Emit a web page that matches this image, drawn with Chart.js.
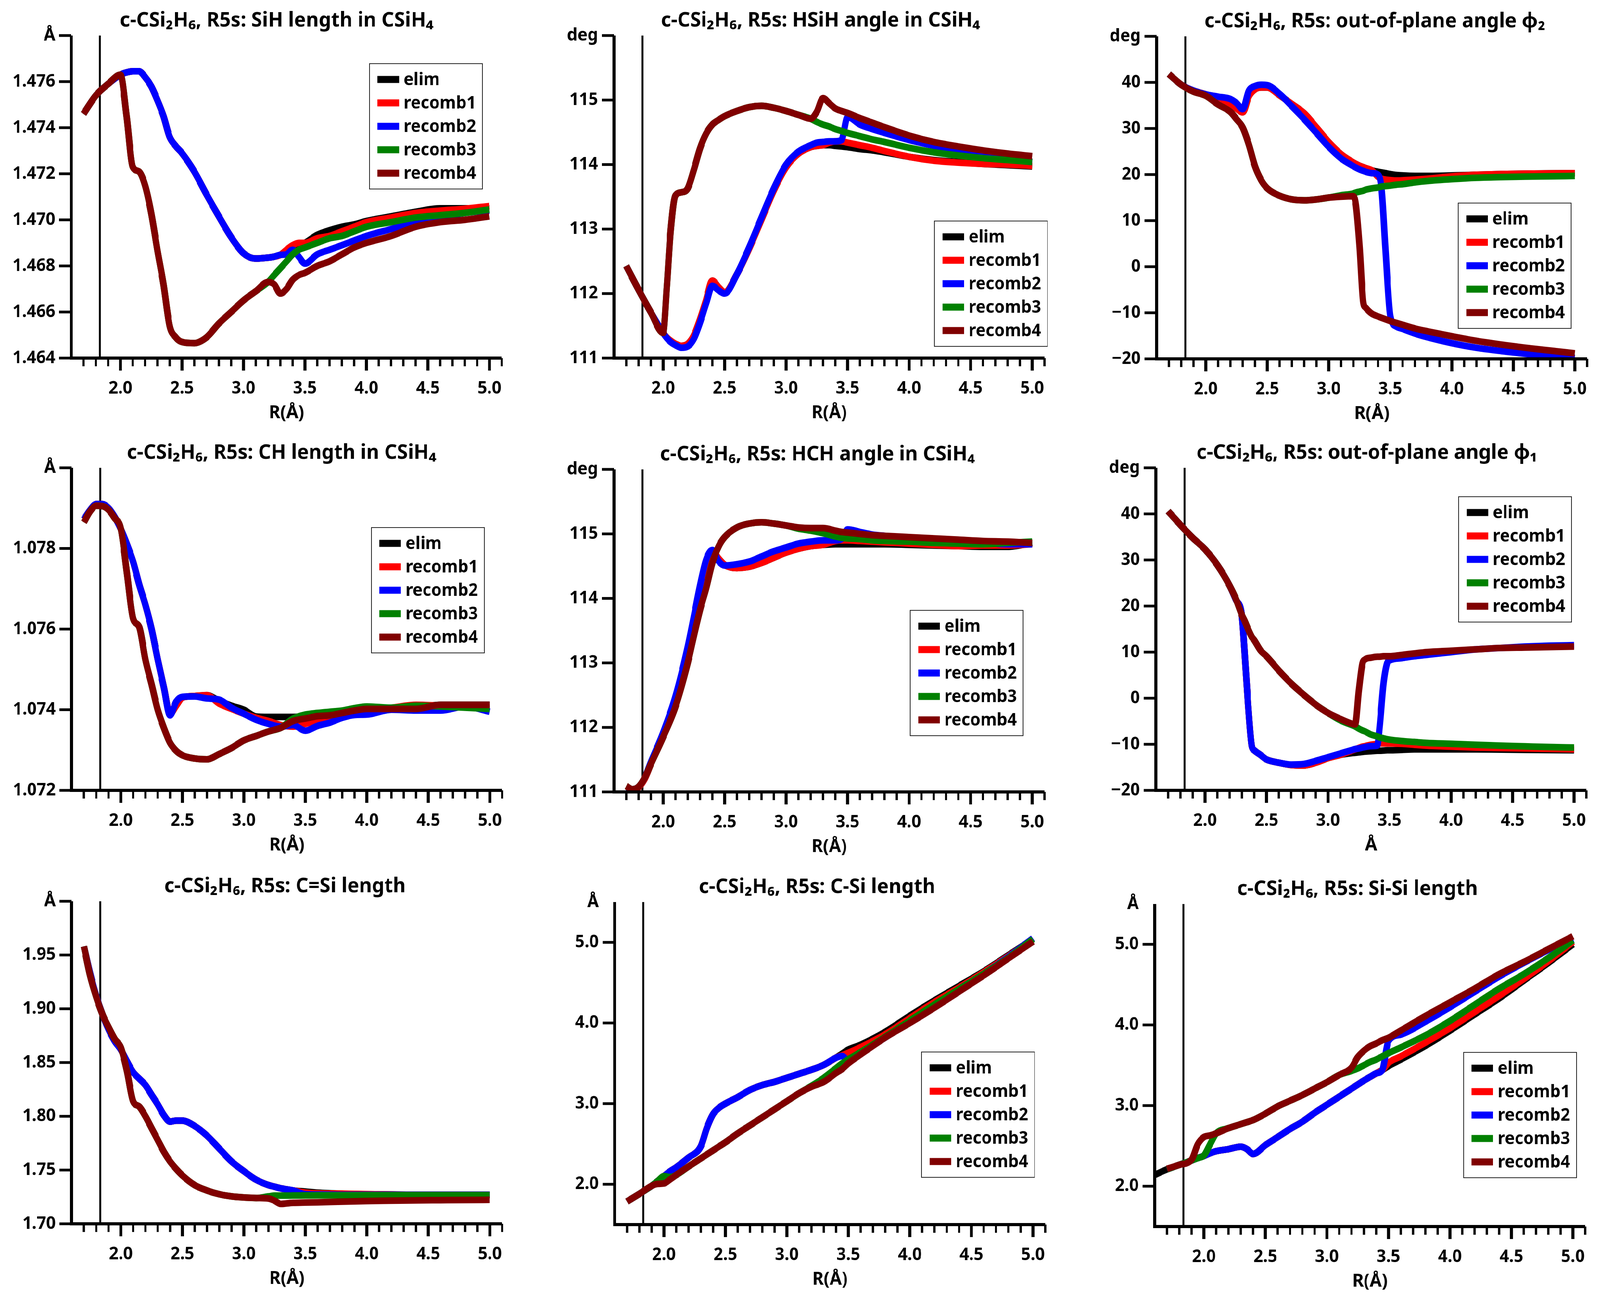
<!DOCTYPE html>
<html><head><meta charset="utf-8">
<script src="https://cdn.jsdelivr.net/npm/chart.js@4.4.1/dist/chart.umd.min.js"></script>
<style>
html,body{margin:0;padding:0;background:#fff;overflow:hidden;}
#wrap{position:absolute;left:0;top:0;width:4222px;height:3324px;overflow:hidden;background:#fff;transform-origin:0 0;}
.panel{position:absolute;width:1456px;height:1108px;}
</style></head><body><div id="wrap"></div>
<script>
// ---------- shared ----------
const SERIES = ['elim','recomb1','recomb2','recomb3','recomb4'];
const COLORS = ['#000000','#ff0000','#0000ff','#008000','#800000'];
const EQ_R = 1.833;
const X_TICKS = [1.7,1.8,1.9,2.0,2.1,2.2,2.3,2.4,2.5,2.6,2.7,2.8,2.9,3.0,3.1,3.2,3.3,3.4,3.5,3.6,3.7,3.8,3.9,4.0,4.1,4.2,4.3,4.4,4.5,4.6,4.7,4.8,4.9,5.0,5.1];
const X_MAJOR = [2.0,2.5,3.0,3.5,4.0,4.5,5.0];
const X_MAJOR_LABELS = ['2.0','2.5','3.0','3.5','4.0','4.5','5.0'];

// ---------- panel 1: SiH length ----------
const R_sih = [1.7,1.8,1.9,2.0,2.05,2.1,2.15,2.2,2.25,2.3,2.35,2.4,2.45,2.5,2.6,2.7,2.8,2.9,3.0,3.1,3.2,3.25,3.3,3.35,3.4,3.45,3.5,3.6,3.7,3.8,3.9,4.0,4.2,4.4,4.6,4.8,5.0];
const sih_elim = [1.4746,1.4754,1.4759,1.4763,1.4764,1.47645,1.47645,1.4762,1.4758,1.4752,1.4745,1.4736,1.4732,1.4729,1.4721,1.4711,1.47015,1.46925,1.46855,1.46832,1.46836,1.4684,1.46848,1.4686,1.46876,1.4689,1.4690,1.46935,1.46955,1.4697,1.4698,1.46995,1.47015,1.47035,1.4705,1.4705,1.4705];
const sih_recomb1 = [1.4746,1.4754,1.4759,1.4763,1.4764,1.47645,1.47645,1.4762,1.4758,1.4752,1.4745,1.4736,1.4732,1.4729,1.4721,1.4711,1.47015,1.46925,1.46855,1.46832,1.46836,1.4684,1.46848,1.4687,1.4689,1.4690,1.4690,1.4692,1.4693,1.4695,1.4697,1.4699,1.4701,1.4703,1.4704,1.47048,1.4706];
const sih_recomb2 = [1.4746,1.4754,1.4759,1.4763,1.4764,1.47645,1.47645,1.4762,1.4758,1.4752,1.4745,1.4736,1.4732,1.4729,1.4721,1.4711,1.47015,1.46925,1.46855,1.46832,1.46836,1.4684,1.46848,1.4685,1.4687,1.4684,1.4681,1.4685,1.4687,1.4689,1.4691,1.4693,1.4696,1.4699,1.4701,1.4703,1.4704];
const sih_recomb3 = [1.4746,1.4754,1.4759,1.4763,1.4745,1.4723,1.4721,1.4715,1.4703,1.4687,1.4672,1.4654,1.4649,1.4647,1.46465,1.4649,1.4655,1.4660,1.4665,1.4669,1.4673,1.4676,1.4679,1.4682,1.4685,1.4687,1.4688,1.4690,1.4692,1.4693,1.4695,1.4697,1.4699,1.4701,1.4702,1.4703,1.47045];
const sih_recomb4 = [1.4746,1.4754,1.4759,1.4763,1.4745,1.4723,1.4721,1.4715,1.4703,1.4687,1.4672,1.4654,1.4649,1.4647,1.46465,1.4649,1.4655,1.4660,1.4665,1.4669,1.4673,1.4672,1.4668,1.4670,1.4674,1.4676,1.4677,1.4680,1.4682,1.4685,1.4688,1.4690,1.4693,1.4697,1.4699,1.4700,1.47015];
const sih_yticks = [1.464,1.466,1.468,1.47,1.472,1.474,1.476,1.478];
const sih_ylabels = ['1.464','1.466','1.468','1.470','1.472','1.474','1.476','Å'];

// ---------- panel 2: HSiH angle ----------
const R_hsih = [1.7,1.8,1.9,2.0,2.03,2.06,2.1,2.15,2.2,2.25,2.3,2.35,2.4,2.45,2.5,2.6,2.7,2.8,2.9,3.0,3.1,3.2,3.25,3.3,3.35,3.4,3.45,3.5,3.6,3.7,3.8,4.0,4.2,4.4,4.6,4.8,5.0];
const hsih_elim = [112.43,112.06,111.71,111.39,111.32,111.27,111.22,111.19,111.22,111.35,111.6,111.9,112.2,112.1,112.02,112.3,112.7,113.15,113.6,113.96,114.17,114.27,114.29,114.3,114.3,114.29,114.28,114.27,114.24,114.22,114.19,114.12,114.07,114.04,114.01,113.99,113.97];
const hsih_recomb1 = [112.43,112.06,111.71,111.39,111.32,111.27,111.22,111.19,111.22,111.35,111.6,111.9,112.2,112.1,112.02,112.3,112.7,113.15,113.6,113.96,114.17,114.27,114.29,114.3,114.34,114.36,114.36,114.34,114.3,114.26,114.21,114.12,114.06,114.03,114.01,114.0,113.98];
const hsih_recomb2 = [112.43,112.06,111.71,111.39,111.31,111.25,111.2,111.16,111.18,111.3,111.55,111.85,112.12,112.05,112.0,112.3,112.72,113.18,113.63,114.0,114.2,114.3,114.34,114.35,114.36,114.36,114.38,114.74,114.62,114.55,114.49,114.38,114.29,114.21,114.14,114.09,114.04];
const hsih_recomb3 = [112.43,112.06,111.71,111.39,112.1,112.95,113.52,113.57,113.63,113.92,114.25,114.48,114.62,114.69,114.75,114.83,114.89,114.91,114.88,114.83,114.77,114.71,114.66,114.62,114.59,114.55,114.52,114.49,114.44,114.39,114.35,114.26,114.19,114.14,114.1,114.07,114.04];
const hsih_recomb4 = [112.43,112.06,111.71,111.39,112.1,112.95,113.52,113.57,113.63,113.92,114.25,114.48,114.62,114.69,114.75,114.83,114.89,114.91,114.88,114.83,114.77,114.71,114.82,115.03,114.95,114.87,114.83,114.8,114.72,114.65,114.58,114.45,114.35,114.28,114.22,114.17,114.13];
const ang_yticks = [111,112,113,114,115,116];
const ang_ylabels = ['111','112','113','114','115','deg'];

// ---------- panel 3: out-of-plane angle phi2 ----------
const R_phi2 = [1.7,1.8,1.9,2.0,2.1,2.2,2.25,2.3,2.35,2.4,2.45,2.5,2.6,2.7,2.8,2.9,3.0,3.1,3.2,3.22,3.25,3.28,3.3,3.35,3.4,3.43,3.46,3.5,3.55,3.6,3.7,3.8,4.0,4.2,4.4,4.6,4.8,5.0];
const phi2_elim = [41.8,39.5,38.2,37.4,36.3,35.3,34.3,33.5,37.0,38.5,38.9,38.9,37.2,35.3,33.3,30.2,27.0,24.4,22.6,22.3,21.9,21.6,21.4,20.9,20.6,20.45,20.3,20.1,19.9,19.8,19.7,19.7,19.8,19.95,20.1,20.2,20.25,20.3];
const phi2_recomb1 = [41.8,39.5,38.2,37.4,36.3,35.3,34.3,33.5,37.0,38.5,38.9,38.9,37.2,35.3,33.3,30.2,27.0,24.4,22.6,22.3,21.9,21.6,21.4,20.9,19.5,19.1,18.9,18.8,18.7,18.75,18.9,19.1,19.6,19.95,20.1,20.2,20.25,20.3];
const phi2_recomb2 = [41.8,39.5,38.2,37.4,36.9,36.4,35.5,34.2,38.2,39.2,39.5,39.4,37.5,34.8,32.0,29.0,26.0,23.5,21.8,21.5,21.1,20.8,20.6,20.3,20.0,16.5,4.0,-10.7,-13.0,-13.5,-14.5,-15.3,-16.6,-17.6,-18.3,-18.9,-19.4,-19.8];
const phi2_recomb3 = [41.8,39.5,38.0,37.1,35.2,33.6,32.0,30.2,26.5,21.8,18.8,17.0,15.4,14.6,14.4,14.6,15.0,15.5,15.9,16.1,16.3,16.5,16.7,17.0,17.2,17.4,17.5,17.6,17.8,17.9,18.3,18.6,19.0,19.3,19.45,19.55,19.62,19.7];
const phi2_recomb4 = [41.8,39.5,38.0,37.1,35.2,33.6,32.0,30.2,26.5,21.8,18.8,17.0,15.4,14.6,14.4,14.6,15.0,15.2,15.3,13.4,4.4,-7.7,-8.9,-10.2,-10.8,-11.1,-11.4,-11.8,-12.2,-12.6,-13.4,-14.0,-15.1,-16.1,-16.9,-17.6,-18.2,-18.8];
const phi_yticks = [-20,-10,0,10,20,30,40,50];
const phi_ylabels = ['\u221220','\u221210','0','10','20','30','40','deg'];

// ---------- panel 4: CH length ----------
const R_ch = [1.7,1.75,1.8,1.85,1.9,1.95,2.0,2.05,2.1,2.15,2.2,2.25,2.3,2.35,2.4,2.45,2.5,2.6,2.7,2.8,2.9,3.0,3.1,3.2,3.3,3.4,3.5,3.6,3.7,3.8,3.9,4.0,4.2,4.4,4.6,4.8,5.0];
const ch_elim = [1.07872,1.07895,1.07910,1.07910,1.07900,1.07878,1.07848,1.07810,1.07767,1.07710,1.07660,1.07600,1.07525,1.07455,1.07390,1.07410,1.07430,1.07434,1.07436,1.07422,1.07410,1.07400,1.07383,1.07382,1.07382,1.07382,1.07383,1.07386,1.07389,1.07391,1.07393,1.07396,1.07400,1.07405,1.07412,1.07412,1.07412];
const ch_recomb1 = [1.07872,1.07895,1.07910,1.07910,1.07900,1.07878,1.07848,1.07810,1.07767,1.07710,1.07660,1.07600,1.07525,1.07455,1.07390,1.07410,1.07430,1.07434,1.07436,1.07415,1.07402,1.07390,1.07380,1.07372,1.07362,1.07358,1.07365,1.07372,1.07380,1.07387,1.07395,1.07400,1.07405,1.07412,1.07410,1.07408,1.07405];
const ch_recomb2 = [1.07872,1.07895,1.07910,1.07910,1.07900,1.07878,1.07848,1.07810,1.07767,1.07710,1.07660,1.07600,1.07525,1.07455,1.07386,1.07420,1.07432,1.07433,1.07428,1.07425,1.07405,1.07390,1.07375,1.07365,1.07358,1.07362,1.07348,1.07360,1.07368,1.07380,1.07387,1.07388,1.07400,1.07398,1.07398,1.07408,1.07395];
const ch_recomb3 = [1.07865,1.07892,1.07906,1.07905,1.07896,1.07875,1.07849,1.07738,1.07626,1.07605,1.07524,1.07463,1.07400,1.07355,1.07318,1.07298,1.07287,1.07279,1.07277,1.07290,1.07305,1.07324,1.07335,1.07346,1.07355,1.07378,1.07388,1.07392,1.07395,1.07398,1.07404,1.07408,1.07405,1.07410,1.07408,1.07405,1.07402];
const ch_recomb4 = [1.07865,1.07892,1.07906,1.07905,1.07896,1.07875,1.07849,1.07738,1.07626,1.07605,1.07524,1.07463,1.07400,1.07355,1.07318,1.07298,1.07287,1.07279,1.07277,1.07290,1.07305,1.07324,1.07335,1.07346,1.07355,1.07372,1.07378,1.07384,1.07386,1.07392,1.07398,1.07402,1.07402,1.07402,1.07412,1.07412,1.07412];
const ch_yticks = [1.072,1.074,1.076,1.078,1.08];
const ch_ylabels = ['1.072','1.074','1.076','1.078','Å'];

// ---------- panel 5: HCH angle ----------
const R_hch = [1.7,1.75,1.8,1.85,1.9,2.0,2.1,2.2,2.25,2.3,2.35,2.4,2.45,2.5,2.6,2.7,2.8,2.9,3.0,3.1,3.2,3.3,3.4,3.45,3.5,3.6,3.7,3.8,4.0,4.2,4.4,4.6,4.8,5.0];
const hch_elim = [111.09,111.04,111.07,111.2,111.43,111.88,112.4,113.12,113.52,114.0,114.45,114.74,114.62,114.52,114.47,114.49,114.55,114.63,114.71,114.77,114.81,114.83,114.84,114.84,114.84,114.84,114.84,114.84,114.83,114.82,114.81,114.80,114.80,114.86];
const hch_recomb1 = [111.09,111.04,111.07,111.2,111.43,111.88,112.4,113.12,113.52,114.0,114.45,114.74,114.62,114.52,114.47,114.49,114.55,114.63,114.71,114.77,114.81,114.83,114.89,114.9,114.9,114.89,114.88,114.87,114.85,114.83,114.81,114.82,114.82,114.84];
const hch_recomb2 = [111.06,111.04,111.08,111.22,111.46,111.92,112.48,113.25,113.72,114.2,114.6,114.75,114.58,114.51,114.53,114.57,114.65,114.73,114.79,114.85,114.88,114.9,114.9,114.92,115.07,115.03,114.99,114.97,114.94,114.91,114.88,114.86,114.84,114.84];
const hch_recomb3 = [111.09,111.04,111.08,111.22,111.43,111.85,112.32,113.0,113.42,113.82,114.16,114.55,114.8,114.95,115.1,115.16,115.18,115.16,115.13,115.08,115.05,115.01,114.96,114.94,114.93,114.92,114.9,114.89,114.88,114.86,114.85,114.84,114.86,114.88];
const hch_recomb4 = [111.09,111.04,111.08,111.22,111.43,111.85,112.32,113.0,113.42,113.82,114.16,114.55,114.8,114.95,115.1,115.16,115.18,115.16,115.13,115.1,115.09,115.09,115.05,115.03,115.02,115.0,114.98,114.97,114.95,114.93,114.91,114.89,114.88,114.86];

// ---------- panel 6: out-of-plane angle phi1 ----------
const R_phi1 = [1.7,1.8,1.9,2.0,2.1,2.2,2.25,2.3,2.32,2.35,2.38,2.4,2.45,2.5,2.6,2.7,2.8,2.9,3.0,3.1,3.2,3.22,3.25,3.28,3.3,3.35,3.4,3.42,3.45,3.48,3.5,3.6,3.7,3.8,4.0,4.2,4.4,4.6,4.8,5.0];
const phi1_elim = [40.6,37.6,34.8,32.3,28.9,24.4,21.4,17.8,10.6,-1.4,-10.4,-11.3,-12.3,-13.3,-14.0,-14.5,-14.6,-14.0,-13.0,-12.3,-11.9,-11.85,-11.75,-11.65,-11.6,-11.5,-11.4,-11.4,-11.35,-11.3,-11.3,-11.2,-11.1,-11.1,-11.1,-11.1,-11.15,-11.2,-11.25,-11.3];
const phi1_recomb1 = [40.6,37.6,34.8,32.3,28.9,24.4,21.4,17.8,10.6,-1.4,-10.4,-11.3,-12.3,-13.3,-14.0,-14.5,-14.6,-14.0,-13.0,-12.3,-11.3,-11.1,-10.8,-10.5,-10.4,-10.1,-9.9,-9.8,-9.8,-9.8,-9.8,-9.9,-10.1,-10.3,-10.5,-10.7,-10.8,-10.9,-11.0,-11.1];
const phi1_recomb2 = [40.6,37.6,34.8,32.3,28.9,24.4,21.4,17.8,10.6,-1.4,-10.4,-11.3,-12.3,-13.3,-14.0,-14.4,-14.3,-13.6,-12.8,-12.0,-11.2,-11.05,-10.9,-10.7,-10.6,-10.4,-10.3,-6.0,3.0,7.6,8.2,8.7,9.1,9.4,10.0,10.6,10.9,11.2,11.4,11.5];
const phi1_recomb3 = [40.6,37.6,34.8,32.3,28.9,24.4,21.6,18.0,16.9,15.0,13.3,12.6,10.4,9.1,6.0,3.2,0.8,-1.4,-3.2,-4.8,-5.9,-6.1,-6.6,-7.0,-7.2,-7.9,-8.3,-8.5,-8.7,-8.9,-9.0,-9.3,-9.5,-9.7,-9.9,-10.1,-10.3,-10.45,-10.6,-10.7];
const phi1_recomb4 = [40.6,37.6,34.8,32.3,28.9,24.4,21.6,18.0,16.9,15.0,13.3,12.6,10.4,9.1,6.0,3.2,0.8,-1.4,-3.2,-4.5,-5.6,-5.7,1.6,7.6,8.4,8.8,9.0,9.0,9.1,9.1,9.1,9.4,9.7,10.0,10.3,10.6,10.9,11.0,11.1,11.2];

// ---------- panel 7: C=Si length ----------
const R_csd = [1.7,1.75,1.8,1.85,1.9,1.95,2.0,2.05,2.1,2.15,2.2,2.25,2.3,2.35,2.4,2.45,2.5,2.6,2.7,2.8,2.9,3.0,3.1,3.2,3.25,3.3,3.35,3.4,3.5,3.6,3.8,4.0,4.2,4.4,4.6,4.8,5.0];
const csd_elim = [1.958,1.933,1.912,1.895,1.881,1.870,1.862,1.851,1.841,1.835,1.829,1.820,1.811,1.801,1.795,1.796,1.796,1.791,1.782,1.770,1.758,1.749,1.741,1.736,1.7345,1.733,1.732,1.731,1.730,1.729,1.728,1.7275,1.7272,1.727,1.727,1.727,1.727];
const csd_recomb1 = [1.958,1.933,1.912,1.895,1.881,1.870,1.862,1.851,1.841,1.835,1.829,1.820,1.811,1.801,1.795,1.796,1.796,1.791,1.782,1.770,1.758,1.749,1.741,1.736,1.7345,1.733,1.732,1.731,1.7290,1.7283,1.728,1.7275,1.7272,1.727,1.727,1.727,1.727];
const csd_recomb2 = [1.958,1.933,1.912,1.895,1.881,1.870,1.862,1.851,1.841,1.835,1.829,1.820,1.811,1.801,1.795,1.796,1.796,1.791,1.782,1.770,1.758,1.749,1.741,1.736,1.7345,1.733,1.732,1.731,1.7275,1.7272,1.7270,1.727,1.727,1.727,1.727,1.727,1.727];
const csd_recomb3 = [1.958,1.931,1.911,1.895,1.883,1.872,1.864,1.842,1.814,1.809,1.800,1.789,1.778,1.767,1.758,1.751,1.745,1.736,1.731,1.7275,1.7255,1.7245,1.724,1.7255,1.7262,1.7262,1.7262,1.7263,1.7264,1.7265,1.7265,1.7266,1.7266,1.7267,1.7267,1.7267,1.7267];
const csd_recomb4 = [1.958,1.931,1.911,1.895,1.883,1.872,1.864,1.842,1.814,1.809,1.800,1.789,1.778,1.767,1.758,1.751,1.745,1.736,1.731,1.7275,1.7255,1.7245,1.724,1.7235,1.7215,1.7185,1.719,1.7195,1.7198,1.720,1.7206,1.7212,1.7215,1.7218,1.722,1.7222,1.7223];
const csd_yticks = [1.7,1.75,1.8,1.85,1.9,1.95,2.0];
const csd_ylabels = ['1.70','1.75','1.80','1.85','1.90','1.95','Å'];

// ---------- panel 8: C-Si length ----------
const R_csi = [1.7,1.8,1.9,1.95,2.0,2.05,2.1,2.2,2.3,2.35,2.4,2.45,2.5,2.6,2.7,2.8,2.9,3.0,3.1,3.2,3.3,3.4,3.45,3.5,3.6,3.8,4.0,4.2,4.4,4.6,4.8,5.0];
const csi_elim = [1.785,1.88,1.98,2.04,2.10,2.16,2.21,2.33,2.47,2.70,2.87,2.95,3.00,3.08,3.17,3.23,3.27,3.32,3.37,3.42,3.48,3.57,3.62,3.67,3.73,3.89,4.09,4.28,4.46,4.64,4.84,5.04];
const csi_recomb1 = [1.785,1.88,1.98,2.04,2.10,2.16,2.21,2.33,2.47,2.70,2.87,2.95,3.00,3.08,3.17,3.23,3.27,3.32,3.37,3.42,3.48,3.57,3.60,3.63,3.70,3.86,4.06,4.26,4.44,4.63,4.83,5.04];
const csi_recomb2 = [1.785,1.88,1.98,2.04,2.10,2.16,2.21,2.33,2.47,2.70,2.87,2.95,3.00,3.08,3.17,3.23,3.27,3.32,3.37,3.42,3.48,3.57,3.59,3.53,3.63,3.82,4.02,4.22,4.42,4.61,4.82,5.05];
const csi_recomb3 = [1.785,1.88,1.98,2.04,2.10,2.09,2.115,2.22,2.32,2.37,2.42,2.47,2.52,2.63,2.73,2.83,2.93,3.03,3.13,3.22,3.32,3.44,3.50,3.55,3.64,3.83,4.03,4.23,4.42,4.61,4.81,5.04];
const csi_recomb4 = [1.785,1.88,1.98,2.005,2.01,2.06,2.115,2.22,2.32,2.37,2.42,2.47,2.52,2.63,2.73,2.83,2.93,3.03,3.13,3.21,3.27,3.38,3.43,3.50,3.61,3.82,4.00,4.19,4.39,4.59,4.80,5.01];
const len_yticks = [2,3,4,5,5.5];
const len_ylabels = ['2.0','3.0','4.0','5.0','Å'];
const len_noTick = [5.5];

// ---------- panel 9: Si-Si length ----------
const R_sisi = [1.6,1.7,1.8,1.9,1.95,2.0,2.05,2.1,2.2,2.3,2.35,2.4,2.5,2.6,2.7,2.8,2.9,3.0,3.1,3.2,3.25,3.3,3.35,3.4,3.45,3.5,3.6,3.8,4.0,4.2,4.4,4.6,4.8,5.0];
const sisi_elim = [2.14,2.21,2.265,2.32,2.35,2.375,2.41,2.435,2.46,2.49,2.46,2.40,2.51,2.61,2.71,2.80,2.91,3.01,3.11,3.21,3.26,3.31,3.355,3.40,3.44,3.49,3.57,3.74,3.93,4.13,4.33,4.55,4.77,5.0];
const sisi_recomb1 = [null,2.21,2.265,2.32,2.35,2.375,2.41,2.435,2.46,2.49,2.46,2.40,2.51,2.61,2.71,2.80,2.91,3.01,3.11,3.21,3.26,3.31,3.355,3.40,3.44,3.53,3.61,3.78,3.96,4.16,4.36,4.57,4.79,5.03];
const sisi_recomb2 = [null,2.21,2.265,2.32,2.35,2.375,2.41,2.435,2.46,2.49,2.46,2.40,2.51,2.61,2.71,2.80,2.91,3.01,3.11,3.21,3.26,3.31,3.355,3.40,3.44,3.80,3.88,4.04,4.22,4.41,4.60,4.77,4.93,5.07];
const sisi_recomb3 = [null,2.21,2.265,2.32,2.35,2.38,2.52,2.655,2.72,2.77,2.795,2.82,2.90,2.99,3.06,3.13,3.21,3.29,3.38,3.43,3.46,3.50,3.54,3.57,3.61,3.65,3.72,3.87,4.05,4.25,4.45,4.63,4.83,5.05];
const sisi_recomb4 = [null,2.216,2.265,2.33,2.52,2.61,2.63,2.655,2.72,2.77,2.795,2.82,2.90,2.99,3.06,3.13,3.21,3.29,3.38,3.47,3.60,3.68,3.735,3.77,3.81,3.84,3.93,4.11,4.28,4.45,4.63,4.78,4.94,5.10];

// ---------- panel definitions ----------
const PANELS = [
  {title:'c-CSi\u2082H\u2086, R5s: SiH length in CSiH\u2084', R:R_sih, ys:[sih_elim,sih_recomb1,sih_recomb2,sih_recomb3,sih_recomb4], yMin:1.464, yMax:1.478, yt:sih_yticks, yl:sih_ylabels, noTick:[], xTitle:'R(Å)', legend:[787,72], pos:[8,-9], tcx:542},
  {title:'c-CSi\u2082H\u2086, R5s: HSiH angle in CSiH\u2084', R:R_hsih, ys:[hsih_elim,hsih_recomb1,hsih_recomb2,hsih_recomb3,hsih_recomb4], yMin:111, yMax:116, yt:ang_yticks, yl:ang_ylabels, noTick:[], xTitle:'R(Å)', legend:[846,475], pos:[1440,-9], tcx:545},
  {title:'c-CSi\u2082H\u2086, R5s: out-of-plane angle \u03c6\u2082', R:R_phi2, ys:[phi2_elim,phi2_recomb1,phi2_recomb2,phi2_recomb3,phi2_recomb4], yMin:-20, yMax:50, yt:phi_yticks, yl:phi_ylabels, noTick:[], xTitle:'R(Å)', legend:[796,427], pos:[2872,-7], tcx:576},
  {title:'c-CSi\u2082H\u2086, R5s: CH length in CSiH\u2084', R:R_ch, ys:[ch_elim,ch_recomb1,ch_recomb2,ch_recomb3,ch_recomb4], yMin:1.072, yMax:1.08, yt:ch_yticks, yl:ch_ylabels, noTick:[], xTitle:'R(Å)', legend:[791,153], pos:[9,1098], tcx:554},
  {title:'c-CSi\u2082H\u2086, R5s: HCH angle in CSiH\u2084', R:R_hch, ys:[hch_elim,hch_recomb1,hch_recomb2,hch_recomb3,hch_recomb4], yMin:111, yMax:116, yt:ang_yticks, yl:ang_ylabels, noTick:[], xTitle:'R(Å)', legend:[782,361], pos:[1440,1102], tcx:537},
  {title:'c-CSi\u2082H\u2086, R5s: out-of-plane angle \u03c6\u2081', R:R_phi1, ys:[phi1_elim,phi1_recomb1,phi1_recomb2,phi1_recomb3,phi1_recomb4], yMin:-20, yMax:50, yt:phi_yticks, yl:phi_ylabels, noTick:[], xTitle:'Å', legend:[799,74], pos:[2870,1098], tcx:557},
  {title:'c-CSi\u2082H\u2086, R5s: C=Si length', R:R_csd, ys:[csd_elim,csd_recomb1,csd_recomb2,csd_recomb3,csd_recomb4], yMin:1.7, yMax:2.0, yt:csd_yticks, yl:csd_ylabels, noTick:[], xTitle:'R(Å)', legend:null, pos:[9,2208], tcx:563},
  {title:'c-CSi\u2082H\u2086, R5s: C-Si length', R:R_csi, ys:[csi_elim,csi_recomb1,csi_recomb2,csi_recomb3,csi_recomb4], yMin:1.5, yMax:5.5, yt:len_yticks, yl:len_ylabels, noTick:len_noTick, xTitle:'R(Å)', legend:[810,384], pos:[1442,2210], tcx:534},
  {title:'c-CSi\u2082H\u2086, R5s: Si-Si length', R:R_sisi, ys:[sisi_elim,sisi_recomb1,sisi_recomb2,sisi_recomb3,sisi_recomb4], yMin:1.5, yMax:5.5, yt:len_yticks, yl:len_ylabels, noTick:len_noTick, xTitle:'R(Å)', legend:[815,380], pos:[2867,2215], tcx:535}
];

const FONT = "'Noto Sans', 'DejaVu Sans', sans-serif";
const CANVAS_W = 1456, CANVAS_H = 1108;

// stretch the 4222x3324 composition over the real viewport
const vw = window.innerWidth || document.documentElement.clientWidth || 4222;
const vh = window.innerHeight || document.documentElement.clientHeight || 3324;
let SX = vw / 4222, SY = vh / 3324;
if (!isFinite(SX) || SX <= 0) SX = 1;
if (!isFinite(SY) || SY <= 0) SY = 1;
const wrap = document.getElementById('wrap');
wrap.style.transform = 'scale(' + SX + ',' + SY + ')';
const DPR = Math.max(window.devicePixelRatio || 1, 1);

const panelTitle = {
  id:'panelTitle',
  afterDraw(chart, args, opts){
    const {ctx, chartArea} = chart;
    ctx.save();
    ctx.font = 'bold 52px ' + FONT; ctx.fillStyle = '#000';
    ctx.textAlign = 'center'; ctx.textBaseline = 'middle';
    ctx.fillText(opts.text, chartArea.left + opts.cx, chartArea.top - 38);
    ctx.restore();
  }
};

const axesDeco = {
  id:'axesDeco',
  beforeDatasetsDraw(chart){
    const {ctx, chartArea:{top,bottom}, scales:{x}} = chart;
    const px = x.getPixelForValue(EQ_R);
    ctx.save(); ctx.strokeStyle='#000'; ctx.lineWidth=5;
    ctx.beginPath(); ctx.moveTo(px, top); ctx.lineTo(px, bottom); ctx.stroke(); ctx.restore();
  },
  afterDraw(chart, args, opts){
    const {ctx, chartArea:{left,right,top,bottom}, scales:{x,y}} = chart;
    ctx.save(); ctx.strokeStyle='#000'; ctx.lineCap='butt';
    ctx.lineWidth=8;
    ctx.beginPath(); ctx.moveTo(left, top); ctx.lineTo(left, bottom+4);
    ctx.moveTo(left-4, bottom); ctx.lineTo(right, bottom); ctx.stroke();
    x.ticks.forEach(t=>{
      const p = x.getPixelForValue(t.value);
      const major = X_MAJOR.includes(t.value);
      ctx.lineWidth = major ? 8 : 6;
      ctx.beginPath(); ctx.moveTo(p,bottom); ctx.lineTo(p,bottom+(major?32:21)); ctx.stroke();
    });
    ctx.lineWidth=7;
    y.ticks.forEach(t=>{
      if ((opts.noTick||[]).includes(t.value)) return;
      const p = y.getPixelForValue(t.value);
      ctx.beginPath(); ctx.moveTo(left,p); ctx.lineTo(left-32,p); ctx.stroke();
    });
    ctx.restore();
  }
};

const boxLegend = {
  id:'boxLegend',
  afterDraw(chart, args, opts){
    if (!opts.pos) return;
    const {ctx, chartArea} = chart;
    const x0 = chartArea.left + opts.pos[0], y0 = chartArea.top + opts.pos[1];
    const w = 298, h = 321;
    ctx.save();
    ctx.fillStyle='#fff'; ctx.fillRect(x0,y0,w,h);
    ctx.strokeStyle='#222'; ctx.lineWidth=2; ctx.strokeRect(x0,y0,w,h);
    ctx.font = "bold 44px " + FONT; ctx.textBaseline='middle'; ctx.textAlign='left';
    chart.data.datasets.forEach((ds,i)=>{
      const cy = y0 + 40.5 + i*60;
      ctx.fillStyle = ds.borderColor; ctx.fillRect(x0+21, cy-9, 57, 18);
      ctx.fillStyle = '#000'; ctx.fillText(ds.label, x0+90, cy+2);
    });
    ctx.restore();
  }
};

PANELS.forEach((p) => {
  const div = document.createElement('div');
  div.className = 'panel';
  div.style.left = p.pos[0] + 'px';
  div.style.top = p.pos[1] + 'px';
  const cv = document.createElement('canvas');
  cv.style.width = CANVAS_W + 'px'; cv.style.height = CANVAS_H + 'px';
  cv.width = CANVAS_W; cv.height = CANVAS_H;
  div.appendChild(cv);
  wrap.appendChild(div);

  const datasets = SERIES.map((name, i) => ({
    label: name,
    data: p.R.map((r, j) => ({x: r, y: p.ys[i][j]})),
    borderColor: COLORS[i], backgroundColor: COLORS[i],
    borderWidth: 17, pointRadius: 0, pointHoverRadius: 0,
    cubicInterpolationMode: 'monotone', borderJoinStyle: 'round',
    fill: false, spanGaps: false, order: 5 - i
  }));

  new Chart(cv, {
    type: 'line',
    data: { datasets },
    plugins: [axesDeco, boxLegend, panelTitle],
    options: {
      responsive: false, animation: false, devicePixelRatio: DPR,
      layout: { padding: { left: 10, top: 100, right: CANVAS_W - 1316, bottom: 12 } },
      plugins: {
        legend: { display: false }, tooltip: { enabled: false }, title: { display: false },
        axesDeco: { noTick: p.noTick },
        boxLegend: { pos: p.legend },
        panelTitle: { text: p.title, cx: p.tcx }
      },
      scales: {
        x: {
          type: 'linear', min: 1.6, max: 5.1,
          grid: { display: false, drawTicks: false }, border: { display: false },
          afterBuildTicks: s => { s.ticks = X_TICKS.map(v => ({value: v})); },
          afterFit: s => { s.height = 170; },
          ticks: { autoSkip: false, maxRotation: 0, minRotation: 0, padding: 52, color: '#000',
                   font: { family: FONT, size: 44, weight: 'bold' },
                   callback: v => { const k2 = X_MAJOR.indexOf(v); return k2 >= 0 ? X_MAJOR_LABELS[k2] : ''; } },
          title: { display: true, text: p.xTitle, color: '#000',
                   font: { family: FONT, size: 46, weight: 'bold' }, padding: { top: 0, bottom: 2 } }
        },
        y: {
          type: 'linear', min: p.yMin, max: p.yMax,
          grid: { display: false, drawTicks: false }, border: { display: false },
          afterBuildTicks: s => { s.ticks = p.yt.map(v => ({value: v})); },
          afterFit: s => { s.width = 170; },
          ticks: { autoSkip: false, padding: 42, color: '#000',
                   font: { family: FONT, size: 44, weight: 'bold' },
                   callback: v => { const k2 = p.yt.indexOf(v); return k2 >= 0 ? p.yl[k2] : ''; } }
        }
      }
    }
  });
});
</script></body></html>
